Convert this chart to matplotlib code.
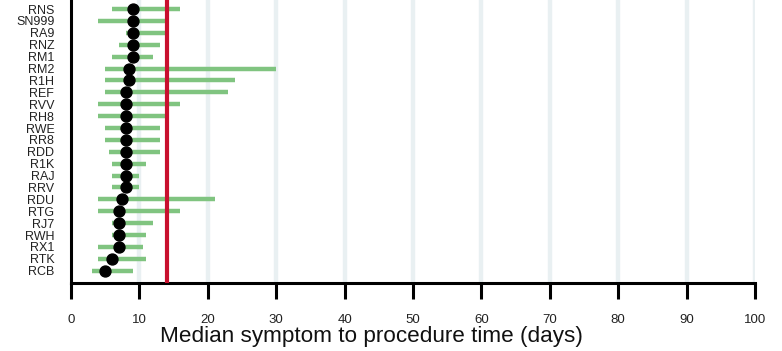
import matplotlib
matplotlib.use("Agg")
import matplotlib.pyplot as plt
import numpy as np

plt.rcParams['font.family'] = ['Liberation Sans', 'DejaVu Sans']

# Rows from bottom to top
sites = ["RCB", "RTK", "RX1", "RWH", "RJ7", "RTG", "RDU", "RRV", "RAJ", "R1K",
         "RDD", "RR8", "RWE", "RH8", "RVV", "REF", "R1H", "RM2", "RM1", "RNZ",
         "RA9", "SN999", "RNS"]
median = [5, 6, 7, 7, 7, 7, 7.5, 8, 8, 8,
          8, 8, 8, 8, 8, 8, 8.5, 8.5, 9, 9,
          9, 9, 9]
lower = [3, 4, 4, 6, 6, 4, 4, 6, 6, 6,
         5.5, 5, 5, 4, 4, 5, 5, 5, 6, 7,
         8, 4, 6]
upper = [9, 11, 10.5, 11, 12, 16, 21, 10, 10, 11,
         13, 13, 13, 14, 16, 23, 24, 30, 12, 13,
         14, 14, 16]
target = 14
xticks = [0, 10, 20, 30, 40, 50, 60, 70, 80, 90, 100]

fig = plt.figure(figsize=(7.82, 3.51), dpi=100)
ax = fig.add_axes([0.0908, 0.1937, 0.8747, 0.8063])

y = np.arange(len(sites))
for gx in xticks[1:]:
    ax.axvline(gx, color="#e9f0f2", lw=3.2, zorder=0)

ax.hlines(y, lower, upper, color="#80c480", lw=3.2, zorder=2)
ax.axvline(target, color="#c8102e", lw=3.0, zorder=3)
ax.scatter(median, y, s=62, color="black", zorder=4)

ax.set_xlim(0, 100)
ax.set_ylim(-1.03, len(sites) - 1 + 0.76)
ax.set_yticks(y)
ax.set_yticklabels(sites, fontsize=9, color="#222222")
ax.tick_params(axis="y", length=0, pad=12)
ax.set_xticks(xticks)
ax.set_xticklabels([str(t) for t in xticks], fontsize=9.5, color="#222222")
ax.tick_params(axis="x", length=11.5, width=2.2, pad=11)
ax.set_xlabel("Median symptom to procedure time (days)", fontsize=16.2,
              color="#111111")
ax.xaxis.set_label_coords(0.439, -0.153)
ax.xaxis.label.set_va("top")

for s in ["top", "right"]:
    ax.spines[s].set_visible(False)
ax.spines["left"].set_linewidth(2.2)
ax.spines["bottom"].set_linewidth(2.2)

fig.savefig("out.png", dpi=100)
